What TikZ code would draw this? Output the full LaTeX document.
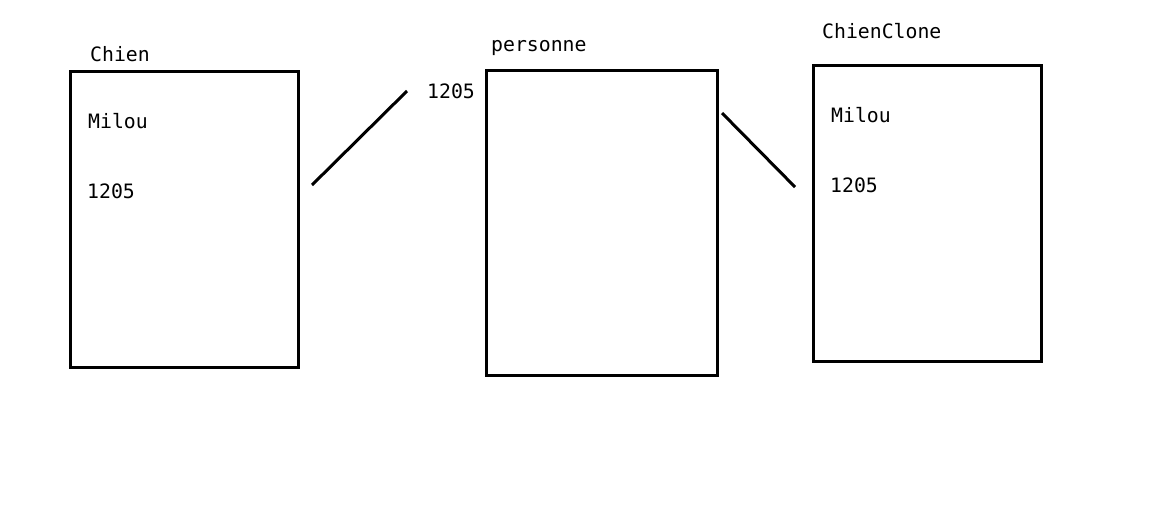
\documentclass[tikz,border=0pt]{standalone}
\usepackage{fontspec}
\setmonofont{DejaVu Sans Mono}
\begin{document}
\begin{tikzpicture}[x=1pt,y=-1pt,
    objbox/.style={draw, line width=3pt, rectangle, inner sep=0pt,
                   minimum width=228pt, minimum height=296pt},
    txt/.style={anchor=base west, inner sep=0pt, font=\ttfamily\fontsize{19.8}{22}\selectfont},
    link/.style={line width=3pt}]

    % --- Page ---
    \useasboundingbox (0,0) rectangle (1150,528);

    % --- Boxes ---
    \node[objbox] (chien) at (184,219) {};
    \node[objbox, minimum width=231pt, minimum height=305pt] (personne) at (601.5,222.5) {};
    \node[objbox] (clone) at (927,213) {};

    % --- Box titles ---
    \node[txt] (tChien) at (90,61) {Chien};
    \node[txt] (tPersonne) at (491,51) {personne};
    \node[txt] (tClone) at (822,38) {ChienClone};

    % --- Fields ---
    \node[txt] (nomChien) at (88,128) {Milou};
    \node[txt] (refChien) at (87,198) {1205};
    \node[txt] (refPersonne) at (427,98) {1205};
    \node[txt] (nomClone) at (831,122) {Milou};
    \node[txt] (refClone) at (830,192) {1205};

    % --- Links ---
    \coordinate (L1) at (312,185);
    \coordinate (L2) at (407,91);
    \coordinate (R1) at (722,113);
    \coordinate (R2) at (795,187);
    \draw[link] (L1) -- (L2);
    \draw[link] (R1) -- (R2);

\end{tikzpicture}
\end{document}
